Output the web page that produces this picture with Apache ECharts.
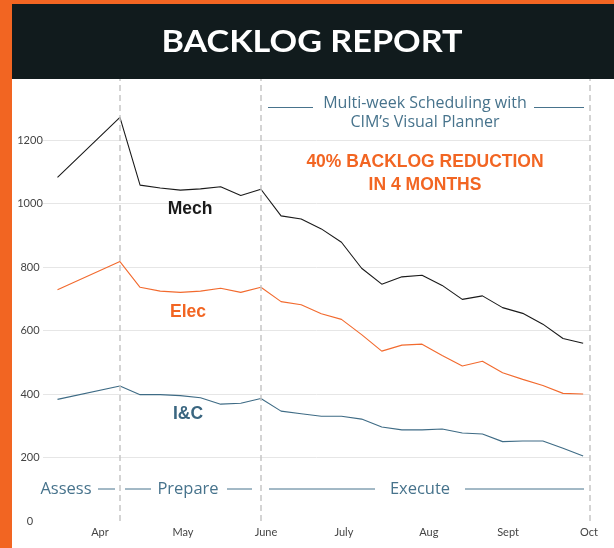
<!DOCTYPE html>
<html>
<head>
<meta charset="utf-8">
<script src="https://cdn.jsdelivr.net/npm/echarts@6/dist/echarts.min.js"></script>
<style>
html,body{margin:0;padding:0;background:#fff;}
#chart{width:614px;height:548px;}
</style>
</head>
<body>
<div id="chart"></div>
<script>
// Week index of each data point (0 = first phase boundary in April)
const weeks = [-3.1, 0, 1, 2, 3, 4, 5, 6, 7, 8, 9, 10, 11, 12, 13, 14, 15, 16, 17, 18, 19, 20, 21, 22, 23];
const mech = [1082, 1271, 1058, 1049, 1042, 1046, 1053, 1025, 1045, 961, 951, 920, 878, 796, 746, 769, 774, 742, 698, 709, 672, 654, 620, 575, 560];
const elec = [728, 817, 736, 724, 720, 724, 733, 720, 736, 691, 681, 653, 635, 587, 535, 554, 557, 521, 488, 503, 467, 446, 427, 402, 400];
const ic   = [383, 425, 398, 398, 395, 388, 368, 371, 386, 346, 338, 330, 330, 321, 296, 287, 287, 290, 277, 274, 250, 252, 252, 229, 205];
const monthLabels = ['Apr', 'May', 'June', 'July', 'Aug', 'Sept', 'Oct'];
const monthWeeks = [-0.99, 3.13, 7.25, 11.12, 15.34, 19.27, 23.29];
const phaseBoundaries = [0, 7, 23.34];
const xMin = -3.82, xMax = 23.34;

const chart = echarts.init(document.getElementById('chart'));
const blue = '#47738c';
const orange = '#f26522';
const zip = (a) => weeks.map((w, i) => [w, a[i]]);
const phaseFont = '16.5px "Open Sans"';
const noteFont = '16px "Open Sans"';
const boldFont = 'bold 17.5px "Liberation Sans"';

chart.setOption({
  animation: false,
  backgroundColor: '#ffffff',
  grid: { left: 43, right: 24, top: 76.5, bottom: 27 },
  xAxis: {
    type: 'value', min: xMin, max: xMax,
    axisLine: { show: false }, axisTick: { show: false }, splitLine: { show: false },
    axisLabel: {
      customValues: monthWeeks,
      formatter: (v) => {
        let best = 0;
        monthWeeks.forEach((m, i) => { if (Math.abs(m - v) < Math.abs(monthWeeks[best] - v)) best = i; });
        return monthLabels[best];
      },
      margin: 6, color: '#444', fontSize: 11, fontFamily: 'Lato'
    }
  },
  yAxis: {
    type: 'value', min: 0, max: 1400, interval: 200,
    axisLine: { show: false }, axisTick: { show: false },
    splitLine: { show: true, showMinLine: false, lineStyle: { color: '#e6e6e6', width: 1 } },
    axisLabel: { showMaxLabel: false, formatter: (v) => String(v), align: 'center', margin: 13, color: '#444', fontSize: 11, fontFamily: 'Lato' }
  },
  series: [
    { name: 'Mech', type: 'line', data: zip(mech), symbol: 'none', lineStyle: { color: '#1a1a1a', width: 1.1 },
      markLine: { silent: true, symbol: 'none', label: { show: false },
        lineStyle: { color: '#c6c6c6', type: [6, 4], width: 1.5 },
        data: phaseBoundaries.map(b => ({ xAxis: b })) } },
    { name: 'Elec', type: 'line', data: zip(elec), symbol: 'none', lineStyle: { color: '#f26a2e', width: 1.1 } },
    { name: 'I&C', type: 'line', data: zip(ic), symbol: 'none', lineStyle: { color: '#3e6b85', width: 1.1 } }
  ],
  graphic: [
    { type: 'rect', z: 100, shape: { x: 0, y: 0, width: 614, height: 4 }, style: { fill: orange } },
    { type: 'rect', z: 100, shape: { x: 0, y: 0, width: 12, height: 548 }, style: { fill: orange } },
    { type: 'rect', z: 100, shape: { x: 12, y: 4, width: 602, height: 75 }, style: { fill: '#111b1d' } },
    { type: 'text', z: 101, x: 312, y: 42, scaleX: 1.14, style: { text: 'BACKLOG REPORT', fill: '#fff', font: 'bold 30px Lato', align: 'center', verticalAlign: 'middle' } },
    // annotation
    { type: 'text', z: 50, x: 425, y: 103, style: { text: 'Multi-week Scheduling with', fill: blue, font: noteFont, align: 'center', verticalAlign: 'middle' } },
    { type: 'text', z: 50, x: 425, y: 122, style: { text: 'CIM\u2019s Visual Planner', fill: blue, font: noteFont, align: 'center', verticalAlign: 'middle' } },
    { type: 'line', z: 50, shape: { x1: 268, y1: 107.5, x2: 313, y2: 107.5 }, style: { stroke: blue, lineWidth: 1 } },
    { type: 'line', z: 50, shape: { x1: 534, y1: 107.5, x2: 584, y2: 107.5 }, style: { stroke: blue, lineWidth: 1 } },
    { type: 'text', z: 50, x: 425, y: 162, style: { text: '40% BACKLOG REDUCTION', fill: orange, font: boldFont, align: 'center', verticalAlign: 'middle' } },
    { type: 'text', z: 50, x: 425, y: 185, style: { text: 'IN 4 MONTHS', fill: orange, font: boldFont, align: 'center', verticalAlign: 'middle' } },
    // series labels
    { type: 'text', z: 50, x: 190, y: 209, style: { text: 'Mech', fill: '#1a1a1a', font: boldFont, align: 'center', verticalAlign: 'middle' } },
    { type: 'text', z: 50, x: 188, y: 312, style: { text: 'Elec', fill: orange, font: boldFont, align: 'center', verticalAlign: 'middle' } },
    { type: 'text', z: 50, x: 188, y: 414, style: { text: 'I&C', fill: '#3a6680', font: boldFont, align: 'center', verticalAlign: 'middle' } },
    // phases
    { type: 'text', z: 50, x: 66, y: 489, style: { text: 'Assess', fill: blue, font: phaseFont, align: 'center', verticalAlign: 'middle' } },
    { type: 'line', z: 50, shape: { x1: 98, y1: 489, x2: 115, y2: 489 }, style: { stroke: blue, lineWidth: 1 } },
    { type: 'line', z: 50, shape: { x1: 125, y1: 489, x2: 151, y2: 489 }, style: { stroke: blue, lineWidth: 1 } },
    { type: 'text', z: 50, x: 188, y: 489, style: { text: 'Prepare', fill: blue, font: phaseFont, align: 'center', verticalAlign: 'middle' } },
    { type: 'line', z: 50, shape: { x1: 227, y1: 489, x2: 252, y2: 489 }, style: { stroke: blue, lineWidth: 1 } },
    { type: 'line', z: 50, shape: { x1: 269, y1: 489, x2: 375, y2: 489 }, style: { stroke: blue, lineWidth: 1 } },
    { type: 'text', z: 50, x: 420, y: 489, style: { text: 'Execute', fill: blue, font: phaseFont, align: 'center', verticalAlign: 'middle' } },
    { type: 'line', z: 50, shape: { x1: 465, y1: 489, x2: 584, y2: 489 }, style: { stroke: blue, lineWidth: 1 } }
  ]
});
</script>
</body>
</html>
